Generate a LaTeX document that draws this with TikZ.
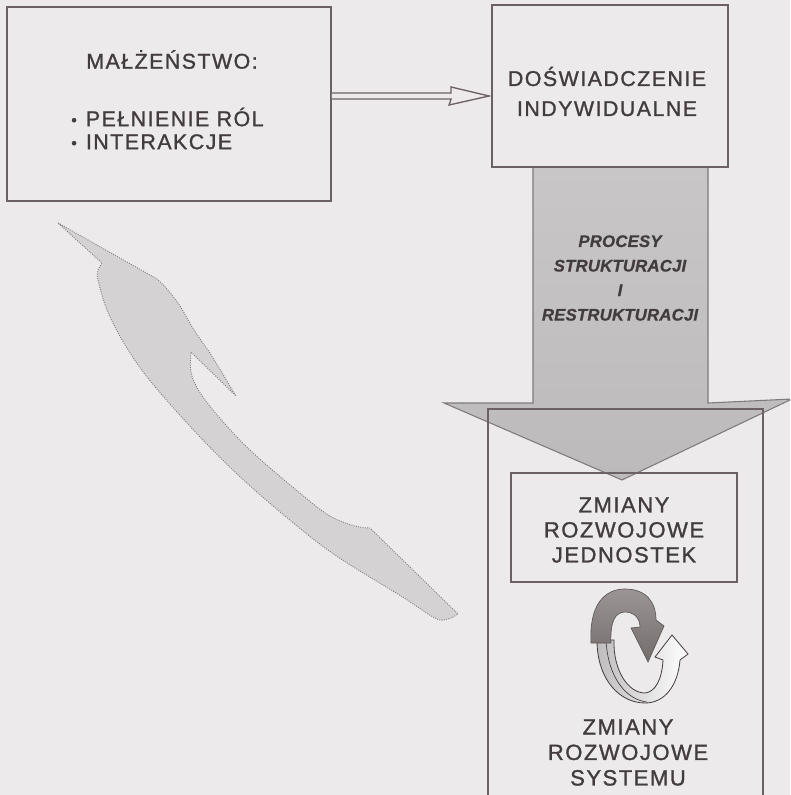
\documentclass[tikz,border=0pt]{standalone}
\usepackage{fontspec}
\setmainfont{Liberation Sans}
\newfontfamily\spfont[LetterSpace=7,FakeBold=1.2]{Liberation Sans}
\newfontfamily\spfontB[LetterSpace=1,FakeBold=0.6]{Liberation Sans}
\usetikzlibrary{calc}
\definecolor{bgc}{HTML}{ECEAEB}
\definecolor{linec}{HTML}{6B6163}
\definecolor{txtc}{HTML}{433C3E}
\definecolor{arrc}{HTML}{C8C6C7}
\definecolor{arrcd}{HTML}{BCBABB}
\definecolor{curvc}{HTML}{D4D2D3}
\definecolor{curvl}{HTML}{857D7F}
\definecolor{darka}{HTML}{736C6B}
\definecolor{darkb}{HTML}{9C9596}
\tikzset{
  boxn/.style={draw=linec, line width=1.4pt, inner sep=0pt, fill=none},
  txt/.style={text=txtc, inner sep=0pt, align=center},
  ptxt/.style={text=txtc, inner sep=0pt, align=center, font=\spfontB\bfseries\itshape\fontsize{12.6}{18.4}\selectfont},
  hollow/.style={draw=linec, line width=1pt, fill=bgc, line join=miter},
  bigarrow/.style={draw=linec!85, line width=0.8pt, top color=arrc, bottom color=arrcd},
  curvearrow/.style={fill=curvc, draw=curvl, line width=0.7pt, densely dotted},
}
\newcommand{\bul}{\makebox[11pt][l]{\fontsize{12}{12}\selectfont\raisebox{0.5pt}{•}}}
\begin{document}
\begin{tikzpicture}[x=0.75pt,y=-0.75pt]
\useasboundingbox (0,0) rectangle (790,795);
\clip (0,0) rectangle (790,795);
\fill[bgc] (0,0) rectangle (790,795);

% large curved double-headed arrow
\path[curvearrow] (58,223) -- (157,279)
  -- plot[smooth, tension=0.6] coordinates {(157,279) (167,289) (180,306) (194,330) (210,353)}
  -- (236,396) -- (191,352)
  -- plot[smooth, tension=0.6] coordinates {(191,352) (191,372) (199,391) (218,416) (251,451) (301,494) (330,516) (355,526) (370,528)}
  -- (458,614)
  -- plot[smooth, tension=0.6] coordinates {(458,614) (448,619) (435,618) (401,596) (335,555) (285,516) (235,472) (188,424) (141,369) (111,319) (98,280) (99,268)}
  -- (102,263) -- cycle;

% big down arrow
\path[bigarrow] (533,167) -- (533,403) -- (444,403) -- (622,480) -- (792,399) -- (708,403) -- (708,167) -- cycle;

% boxes
\node[boxn, minimum width=243pt, minimum height=145.5pt] (b1) at (169,104) {};
\node[boxn, minimum width=177pt, minimum height=121.5pt] (b2) at (610,86) {};
\node[boxn, minimum width=206.25pt, minimum height=368.25pt] (b4) at (625.5,654.5) {};
\node[boxn, minimum width=169.5pt, minimum height=81.75pt] (b3) at (624,527.5) {};

% texts
\node[txt, font=\spfont\fontsize{16}{17.25}\selectfont] (t1) at (172,59.5) {MAŁŻEŃSTWO:};
\node[txt, align=left, anchor=west, font=\spfont\fontsize{16}{17.25}\selectfont] (t2) at (71,128.5) {\bul PEŁNIENIE RÓL\\\bul INTERAKCJE};
\node[txt, font=\spfont\fontsize{16}{22.5}\selectfont] (t3) at (607,91.5) {DOŚWIADCZENIE\\INDYWIDUALNE};
\node[ptxt] (t4) at (620,278) {PROCESY\\STRUKTURACJI\\I\\RESTRUKTURACJI};
\node[txt, font=\spfont\fontsize{16.5}{18.75}\selectfont] (t5) at (624,530) {ZMIANY\\ROZWOJOWE\\JEDNOSTEK};
\node[txt, font=\spfont\fontsize{16.5}{19.1}\selectfont] (t6) at (628,752.5) {ZMIANY\\ROZWOJOWE\\SYSTEMU};

% hollow arrow box1 -> box2
\coordinate (ya) at (0,96);
\coordinate (a1) at (b1.east |- ya);
\coordinate (a2) at ($(b2.west |- ya)+(-2,0)$);
\path[hollow] ($(a1)+(0,-3)$) -- ($(a2)+(-38,-3)$) -- ($(a2)+(-38,-9)$) -- (a2)
  -- ($(a2)+(-40,9)$) -- ($(a2)+(-38,3)$) -- ($(a1)+(0,3)$);

% circular arrows
\path[draw=txtc, line width=0.6pt, left color=curvc!90!black, right color=white]
  (597,640) .. controls (597,680) and (620,703) .. (645,703)
  .. controls (665,703) and (678,685) .. (680,660)
  -- (688,654) -- (672,635) -- (655,657) -- (663,660)
  .. controls (662,680) and (655,692) .. (645,693)
  .. controls (628,693) and (613,670) .. (614,640) -- cycle;
\draw[txtc, line width=0.5pt] (606,640) .. controls (608,680) and (628,700) .. (647,702);
\path[draw=darka!80!black, line width=0.5pt, top color=darkb, bottom color=darka]
  (591,643) .. controls (589,604) and (605,589) .. (625,589)
  .. controls (646,589) and (656,602) .. (656,620)
  -- (664,626) -- (648,662) -- (631,628) -- (640,627)
  .. controls (640,618) and (634,612) .. (625,612)
  .. controls (615,612) and (610,622) .. (611,643) -- cycle;
\end{tikzpicture}
\end{document}
